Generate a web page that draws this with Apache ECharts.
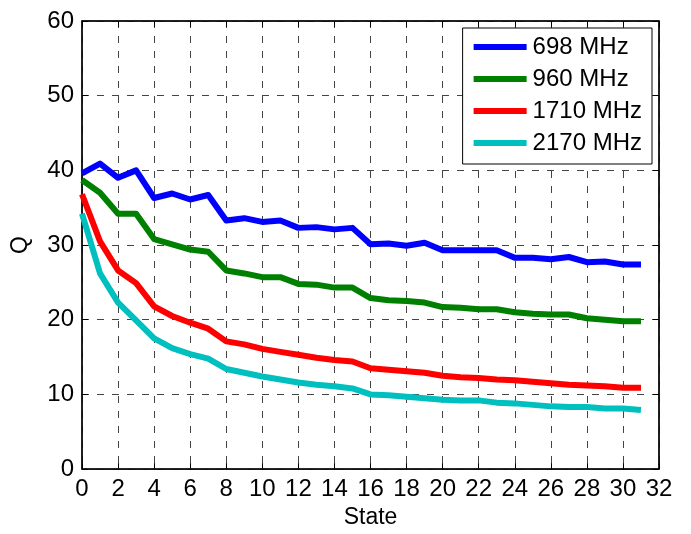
<!DOCTYPE html>
<html><head><meta charset="utf-8">
<script src="https://cdn.jsdelivr.net/npm/echarts@6/dist/echarts.min.js"></script>
<style>html,body{margin:0;padding:0;background:#fff}#c{width:691px;height:534px}</style>
</head><body><div id="c"></div>
<script>
const states = Array.from({length: 32}, (_, i) => i);
const xTicks = [0,2,4,6,8,10,12,14,16,18,20,22,24,26,28,30,32];
const seriesNames = ['698 MHz', '960 MHz', '1710 MHz', '2170 MHz'];
const q698 = [39.6,40.9,39.0,40.0,36.3,36.9,36.1,36.7,33.3,33.6,33.1,33.3,32.3,32.4,32.1,32.3,30.1,30.2,29.9,30.3,29.3,29.3,29.3,29.3,28.3,28.3,28.1,28.4,27.7,27.8,27.4,27.4];
const q960 = [38.7,37.0,34.2,34.2,30.8,30.1,29.4,29.1,26.6,26.2,25.7,25.7,24.8,24.7,24.3,24.3,22.9,22.6,22.5,22.3,21.7,21.6,21.4,21.4,21.0,20.8,20.7,20.7,20.2,20.0,19.8,19.8];
const q1710 = [36.8,30.5,26.6,24.9,21.8,20.5,19.6,18.8,17.1,16.7,16.1,15.7,15.3,14.9,14.6,14.4,13.5,13.3,13.1,12.9,12.5,12.3,12.2,12.0,11.9,11.7,11.5,11.3,11.2,11.1,10.9,10.9];
const q2170 = [34.2,26.2,22.3,19.9,17.5,16.2,15.4,14.8,13.4,12.9,12.4,12.0,11.6,11.3,11.1,10.8,10.0,9.9,9.7,9.5,9.3,9.2,9.2,8.9,8.8,8.6,8.4,8.3,8.3,8.1,8.1,7.9];
const colors = ['#0000ff', '#008000', '#ff0000', '#00bfbf'];
const allData = [q698, q960, q1710, q2170];

const chart = echarts.init(document.getElementById('c'), null, {renderer: 'canvas'});
const font = 'Liberation Sans, Arial, sans-serif';
const dashed = {show: true, lineStyle: {color: '#444', type: [7, 8], width: 1}};
const baseX = {
  type: 'value', min: 0, max: 32, interval: 2,
  axisLine: {show: true, onZero: false, lineStyle: {color: '#000', width: 1.5}},
  axisTick: {show: true, inside: true, length: 6, lineStyle: {color: '#000'}},
  splitLine: {show: false}
};
const baseY = {
  type: 'value', min: 0, max: 60, interval: 10,
  axisLine: {show: true, onZero: false, lineStyle: {color: '#000', width: 1.5}},
  axisTick: {show: true, inside: true, length: 6, lineStyle: {color: '#000'}},
  splitLine: {show: false}
};
chart.setOption({
  animation: false,
  backgroundColor: '#fff',
  grid: {left: 82, right: 32, top: 21, bottom: 63, show: true, borderColor: '#000', borderWidth: 1, containLabel: false},
  legend: {
    data: seriesNames,
    orient: 'vertical',
    right: 39, top: 28,
    backgroundColor: '#fff',
    borderColor: '#000', borderWidth: 1,
    padding: [7, 10, 9, 11],
    icon: 'rect', itemWidth: 53, itemHeight: 6, itemGap: 8,
    textStyle: {fontFamily: font, fontSize: 24, lineHeight: 24, color: '#000', padding: [0, 0, 0, 1]}
  },
  xAxis: [
    Object.assign({}, baseX, {
      position: 'bottom', name: 'State', nameLocation: 'middle', nameGap: 36,
      nameTextStyle: {fontFamily: font, fontSize: 23, color: '#000'},
      axisLabel: {fontFamily: font, fontSize: 24, color: '#000', margin: 8,
        formatter: v => xTicks.includes(v) ? String(v) : ''},
      splitLine: dashed
    }),
    Object.assign({}, baseX, {position: 'top', axisLabel: {show: false}})
  ],
  yAxis: [
    Object.assign({}, baseY, {
      position: 'left', name: 'Q', nameLocation: 'middle', nameGap: 50,
      nameTextStyle: {fontFamily: font, fontSize: 23, color: '#000'},
      axisLabel: {fontFamily: font, fontSize: 24, color: '#000', margin: 8},
      splitLine: dashed
    }),
    Object.assign({}, baseY, {position: 'right', axisLabel: {show: false}})
  ],
  series: seriesNames.map((n, k) => ({
    name: n, type: 'line', xAxisIndex: 0, yAxisIndex: 0,
    data: states.map((s, i) => [s, allData[k][i]]),
    showSymbol: false, symbol: 'none',
    lineStyle: {color: colors[k], width: 6, join: 'round'},
    itemStyle: {color: colors[k]},
    z: 10 - k
  }))
});
</script></body></html>
